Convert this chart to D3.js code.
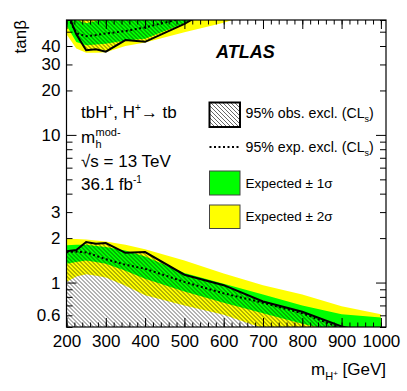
<!DOCTYPE html>
<html>
<head>
<meta charset="utf-8">
<script src="https://cdn.jsdelivr.net/npm/d3@7"></script>
<style>
  body { margin: 0; background: #fff; }
  text { font-family: "Liberation Sans", Arial, Helvetica, sans-serif; fill: #000; }
</style>
</head>
<body>
<svg width="407" height="391"></svg>
<script>
// charged Higgs mass points (GeV)
var masses = [200, 225, 250, 275, 300, 350, 400, 500, 600, 700, 800, 900, 1000];

// low tan(beta) exclusion
var obsLow     = [1.63, 1.66, 1.88, 1.83, 1.85, 1.59, 1.61, 1.13, 0.96, 0.745, 0.634, 0.505, 0.44];
var expLow     = [1.61, 1.62, 1.60, 1.52, 1.44, 1.32, 1.24, 1.01, 0.845, 0.73, 0.62, 0.49, 0.42];
var sig1UpLow  = [1.79, 1.80, 1.80, 1.77, 1.74, 1.65, 1.50, 1.16, 0.98, 0.83, 0.70, 0.61, 0.58];
var sig1DnLow  = [1.34, 1.38, 1.41, 1.38, 1.34, 1.20, 1.06, 0.87, 0.73, 0.62, 0.525, 0.46, 0.41];
var sig2UpLow  = [1.98, 1.97, 1.96, 1.93, 1.90, 1.80, 1.68, 1.41, 1.15, 0.96, 0.83, 0.69, 0.61];
var sig2DnLow  = [1.01, 1.10, 1.14, 1.11, 1.08, 0.95, 0.82, 0.70, 0.605, 0.49, 0.42, 0.37, 0.33];

// high tan(beta) exclusion
var obsHigh    = [70, 48, 37.4, 38, 36.6, 43.9, 42.7, 56.5, 80, 100, 120, 140, 160];
var expHigh    = [66, 48.8, 46.6, 47.5, 48.6, 50.5, 53.5, 62, 80, 100, 120, 140, 160];
var sig1UpHigh = [80, 60, 57, 59, 66, 75, 85, 100, 120, 140, 160, 180, 200];
var sig1DnHigh = [55, 42.5, 40.4, 41, 41.5, 43.5, 44.8, 57, 75, 95, 110, 130, 150];
var sig2UpHigh = [95, 75, 72, 74, 80, 90, 100, 120, 140, 160, 180, 200, 220];
var sig2DnHigh = [48, 38.5, 36, 36, 36.3, 40, 42.3, 49.5, 57.5, 70, 85, 100, 115];

// axis ticks
var xMajor = d3.range(200, 1001, 100);
var xMinor = d3.range(200, 1013, 20);
var yLabels = [0.6, 1, 2, 3, 10, 20, 30, 40];
var yMajor = [1, 10];
var yMinor = [0.5, 0.6, 0.7, 0.8, 0.9, 2, 3, 4, 5, 6, 7, 8, 9, 20, 30, 40, 50, 60];

var svg = d3.select("svg");
var marginLeft = 66.5, marginTop = 20;
var width = 319.5, height = 307;

var x = d3.scaleLinear().domain([200, 1013]).range([0, width]);
var y = d3.scaleLog().domain([0.5, 60]).range([height, 0]);

var defs = svg.append("defs");
defs.append("clipPath").attr("id", "plotclip")
  .append("rect").attr("width", width).attr("height", height);

var hatch = defs.append("pattern")
  .attr("id", "hatch")
  .attr("patternUnits", "userSpaceOnUse")
  .attr("width", 4).attr("height", 4);
hatch.append("path")
  .attr("d", "M-1,-1L5,5M-1,3L1,5M3,-1L5,1")
  .attr("stroke", "#000")
  .attr("stroke-width", 0.6);

var g = svg.append("g").attr("transform", "translate(" + marginLeft + "," + marginTop + ")");
var plot = g.append("g").attr("clip-path", "url(#plotclip)");

function band(lo, hi) {
  return d3.area()
    .x(function(d, i) { return x(masses[i]); })
    .y0(function(d, i) { return y(lo[i]); })
    .y1(function(d, i) { return y(hi[i]); })(masses);
}
function curve(vals) {
  return d3.line()
    .x(function(d, i) { return x(masses[i]); })
    .y(function(d, i) { return y(vals[i]); })(masses);
}

// bands
plot.append("path").attr("d", band(sig2DnLow, sig2UpLow)).attr("fill", "#ffff00");
plot.append("path").attr("d", band(sig1DnLow, sig1UpLow)).attr("fill", "#00ff00");
plot.append("path").attr("d", band(sig2DnHigh, sig2UpHigh)).attr("fill", "#ffff00");
plot.append("path").attr("d", band(sig1DnHigh, sig1UpHigh)).attr("fill", "#00ff00");

// observed excluded regions (hatched)
plot.append("path")
  .attr("d", d3.area()
    .x(function(d, i) { return x(masses[i]); })
    .y0(height)
    .y1(function(d, i) { return y(obsLow[i]); })(masses))
  .attr("fill", "url(#hatch)");
plot.append("path")
  .attr("d", d3.area()
    .x(function(d, i) { return x(masses[i]); })
    .y0(0)
    .y1(function(d, i) { return y(obsHigh[i]); })(masses))
  .attr("fill", "url(#hatch)");

// expected and observed limits
[expLow, expHigh].forEach(function(v) {
  plot.append("path").attr("d", curve(v))
    .attr("fill", "none").attr("stroke", "#000")
    .attr("stroke-width", 2).attr("stroke-dasharray", "2,2.5");
});
[obsLow, obsHigh].forEach(function(v) {
  plot.append("path").attr("d", curve(v))
    .attr("fill", "none").attr("stroke", "#000")
    .attr("stroke-width", 2);
});

// axes
function clean(sel) { sel.select(".domain").remove(); sel.selectAll("line").attr("stroke", "#000"); }
var plain = function(d) { return d; };

g.append("g").attr("transform", "translate(0," + height + ")")
  .call(d3.axisBottom(x).tickValues(xMajor).tickSizeInner(-9).tickSizeOuter(0).tickPadding(8).tickFormat(plain))
  .call(clean)
  .selectAll("text").attr("font-size", "17px").attr("font-family", null);
g.append("g").attr("transform", "translate(0," + height + ")")
  .call(d3.axisBottom(x).tickValues(xMinor).tickSize(-4.5).tickFormat(""))
  .call(clean);
g.append("g")
  .call(d3.axisTop(x).tickValues(xMajor).tickSize(-9).tickFormat(""))
  .call(clean);
g.append("g")
  .call(d3.axisTop(x).tickValues(xMinor).tickSize(-4.5).tickFormat(""))
  .call(clean);

g.append("g")
  .call(d3.axisLeft(y).tickValues(yLabels).tickSize(0).tickPadding(6).tickFormat(plain))
  .call(clean)
  .selectAll("text").attr("font-size", "17px").attr("font-family", null);
g.append("g")
  .call(d3.axisLeft(y).tickValues(yMajor).tickSize(-10).tickFormat(""))
  .call(clean);
g.append("g")
  .call(d3.axisLeft(y).tickValues(yMinor).tickSize(-6).tickFormat(""))
  .call(clean);
g.append("g").attr("transform", "translate(" + width + ",0)")
  .call(d3.axisRight(y).tickValues(yMajor).tickSize(-10).tickFormat(""))
  .call(clean);
g.append("g").attr("transform", "translate(" + width + ",0)")
  .call(d3.axisRight(y).tickValues(yMinor).tickSize(-6).tickFormat(""))
  .call(clean);

g.append("rect")
  .attr("width", width).attr("height", height)
  .attr("fill", "none").attr("stroke", "#000").attr("stroke-width", 1.2);

// axis titles
svg.append("text")
  .attr("transform", "translate(26,20) rotate(-90)")
  .attr("text-anchor", "end")
  .attr("font-size", "17px")
  .text("tanβ");

var xt = svg.append("text")
  .attr("x", 386).attr("y", 375)
  .attr("text-anchor", "end")
  .attr("font-size", "17px");
xt.append("tspan").text("m");
xt.append("tspan").attr("font-size", "11px").attr("dy", 5).text("H");
xt.append("tspan").attr("font-size", "8px").attr("dy", -4).text("+");
xt.append("tspan").attr("dy", -1).text(" [GeV]");

// ATLAS label
svg.append("text")
  .attr("x", 216).attr("y", 58)
  .attr("font-size", "18px")
  .attr("font-weight", "bold")
  .attr("font-style", "italic")
  .text("ATLAS");

// info text
var t1 = svg.append("text").attr("x", 81).attr("y", 118).attr("font-size", "17px");
t1.append("tspan").text("tbH");
t1.append("tspan").attr("font-size", "10px").attr("dy", -7).text("+");
t1.append("tspan").attr("dy", 7).text(", H");
t1.append("tspan").attr("font-size", "10px").attr("dy", -7).text("+");
t1.append("tspan").attr("dy", 7).text("→ tb");

var t2 = svg.append("text").attr("x", 81).attr("y", 143).attr("font-size", "17px");
t2.append("tspan").text("m");
t2.append("tspan").attr("x", 95.5).attr("dy", 5).attr("font-size", "11px").text("h");
t2.append("tspan").attr("x", 95.5).attr("dy", -12).attr("font-size", "11px").text("mod-");

svg.append("text").attr("x", 81).attr("y", 167).attr("font-size", "17px").text("√s = 13 TeV");

var t4 = svg.append("text").attr("x", 81).attr("y", 190).attr("font-size", "17px");
t4.append("tspan").text("36.1 fb");
t4.append("tspan").attr("font-size", "10px").attr("dy", -7).text("-1");

// legend
var lx = 209.5, lw = 30.5, tx = 245.5;
svg.append("rect").attr("x", lx).attr("y", 102.5).attr("width", lw).attr("height", 24.5)
  .attr("fill", "url(#hatch)").attr("stroke", "#000").attr("stroke-width", 2);
svg.append("line").attr("x1", lx).attr("x2", lx + lw).attr("y1", 147).attr("y2", 147)
  .attr("stroke", "#000").attr("stroke-width", 2).attr("stroke-dasharray", "2,2.5");
svg.append("rect").attr("x", lx).attr("y", 171).attr("width", lw).attr("height", 24)
  .attr("fill", "#00ff00").attr("stroke", "#444").attr("stroke-width", 1);
svg.append("rect").attr("x", lx).attr("y", 205).attr("width", lw).attr("height", 23.5)
  .attr("fill", "#ffff00").attr("stroke", "#444").attr("stroke-width", 1);

function clsLabel(yy, word) {
  var t = svg.append("text").attr("x", tx).attr("y", yy).attr("font-size", "14.2px");
  t.append("tspan").text("95% " + word + " excl. (CL");
  t.append("tspan").attr("font-size", "9px").attr("dy", 4).text("s");
  t.append("tspan").attr("dy", -4).text(")");
}
clsLabel(118, "obs.");
clsLabel(152, "exp.");
svg.append("text").attr("x", tx).attr("y", 188).attr("font-size", "13.5px").text("Expected ± 1σ");
svg.append("text").attr("x", tx).attr("y", 221).attr("font-size", "13.5px").text("Expected ± 2σ");
</script>
</body>
</html>
